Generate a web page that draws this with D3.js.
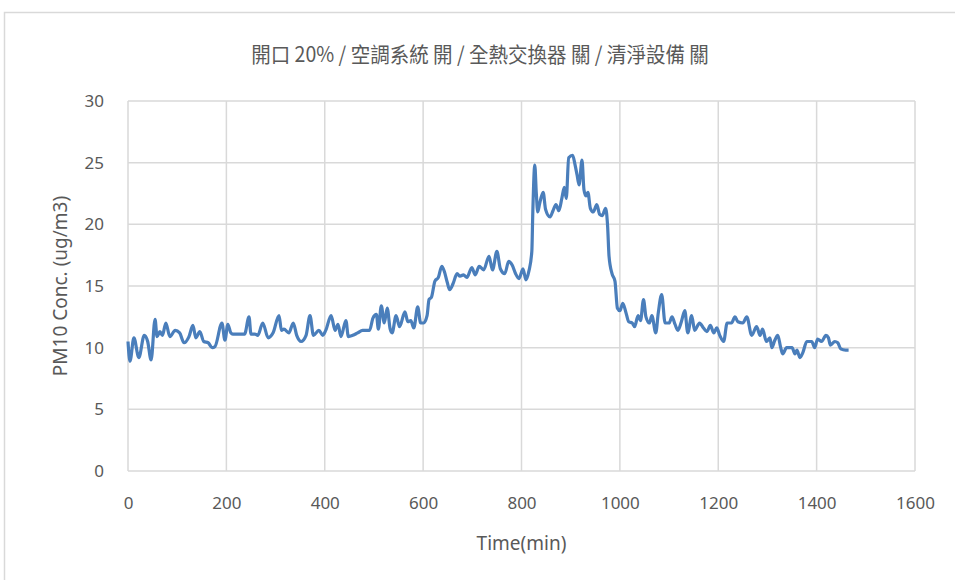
<!DOCTYPE html>
<html>
<head>
<meta charset="utf-8">
<script src="https://cdn.jsdelivr.net/npm/d3@7"></script>
<style>
  body { margin: 0; background: #fff; }
  text { font-family: "Noto Sans CJK TC", "Noto Sans", sans-serif; fill: #595959; }
</style>
</head>
<body>
<script>
// chart texts
var chartTitle = "開口 20% / 空調系統 開 / 全熱交換器 關 / 清淨設備 關";
var xTitle = "Time(min)";
var yTitle = "PM10 Conc. (ug/m3)";

// axis ticks
var xTicks = [0, 200, 400, 600, 800, 1000, 1200, 1400, 1600];
var yTicks = [0, 5, 10, 15, 20, 25, 30];

// series: time (min) and PM10 (ug/m3)
var timeMin = [0, 4, 12, 22, 33, 40, 47, 55, 59, 65, 70, 77, 85, 96, 105, 114, 124, 132, 138, 146,
  154, 163, 171, 177, 191, 197, 203, 209, 213, 237, 246, 250, 258, 264, 274, 285, 295, 307, 312, 317,
  327, 336, 343, 352, 362, 370, 377, 388, 396, 402, 413, 421, 427, 433, 443, 448, 457, 467, 477, 491,
  498, 505, 509, 515, 521, 527, 533, 537, 545, 552, 563, 569, 575, 581, 589, 595, 601, 608, 612, 617,
  624, 631, 638, 643, 649, 654, 661, 669, 675, 682, 689, 699, 706, 714, 723, 734, 741, 750, 757, 766,
  774, 781, 788, 795, 803, 809, 815, 821, 823, 827, 830, 833, 837, 844, 849, 858, 864, 870, 876, 882,
  887, 891, 896, 904, 909, 913, 917, 923, 927, 931, 935, 940, 946, 953, 959, 964, 971, 975, 978, 984,
  990, 995, 1000, 1006, 1012, 1018, 1025, 1030, 1037, 1042, 1048, 1053, 1060, 1065, 1073, 1078, 1085, 1092, 1100, 1106,
  1112, 1118, 1125, 1132, 1138, 1146, 1152, 1162, 1170, 1177, 1184, 1191, 1197, 1203, 1211, 1218, 1227, 1234, 1240, 1250,
  1258, 1268, 1278, 1285, 1290, 1298, 1305, 1309, 1315, 1321, 1327, 1331, 1339, 1350, 1356, 1360, 1366, 1372, 1380, 1390,
  1396, 1402, 1410, 1419, 1424, 1428, 1437, 1443, 1449, 1459, 1465];
var pm10 = [10.5, 8.9, 10.8, 9.2, 11.0, 10.5, 9.0, 12.3, 10.9, 11.3, 11.0, 12.0, 10.9, 11.4, 11.2, 10.4, 10.9, 11.8, 10.8, 11.3,
  10.5, 10.4, 10.0, 10.1, 12.0, 10.6, 11.9, 11.2, 11.1, 11.1, 12.5, 11.1, 11.1, 11.0, 12.0, 10.8, 11.2, 12.6, 11.4, 11.5,
  11.2, 12.0, 11.0, 10.5, 11.0, 12.6, 11.0, 11.4, 11.0, 11.4, 12.6, 11.4, 11.9, 10.9, 12.2, 10.9, 11.0, 11.2, 11.4, 11.4,
  12.4, 12.7, 11.5, 13.4, 12.0, 13.2, 11.5, 11.2, 12.6, 11.7, 12.9, 12.1, 12.2, 11.6, 13.3, 12.0, 12.0, 12.6, 13.9, 14.1,
  15.4, 15.7, 16.6, 16.2, 15.3, 14.7, 15.2, 16.0, 15.8, 15.9, 15.7, 16.5, 15.9, 16.6, 16.3, 17.4, 16.3, 17.8, 16.4, 16.0,
  17.0, 16.7, 16.0, 15.6, 16.4, 15.5, 16.2, 17.8, 21.0, 24.8, 22.6, 21.0, 21.7, 22.6, 21.2, 20.6, 21.1, 21.6, 21.1, 22.1,
  23.0, 22.1, 25.4, 25.6, 24.8, 24.0, 23.2, 25.2, 22.8, 22.3, 22.6, 21.3, 21.0, 21.6, 20.8, 20.7, 21.3, 19.9, 17.4, 16.0,
  15.4, 13.2, 13.0, 13.6, 12.9, 12.1, 12.0, 11.7, 12.6, 12.2, 13.9, 12.5, 12.0, 12.6, 11.2, 12.8, 14.3, 12.0, 12.0, 12.5,
  11.9, 11.4, 12.1, 13.0, 11.2, 12.6, 11.4, 12.0, 11.6, 11.3, 11.8, 11.2, 11.6, 11.0, 10.5, 12.0, 12.0, 12.5, 12.1, 12.0,
  12.5, 11.0, 11.7, 11.0, 11.5, 10.5, 10.8, 10.0, 10.6, 11.0, 10.0, 9.5, 10.0, 10.0, 9.5, 9.8, 9.2, 9.6, 10.5, 10.5,
  10.0, 10.7, 10.5, 11.0, 10.8, 10.2, 10.5, 10.4, 9.9, 9.8, 9.8];

var width = 955, height = 580;
var margin = {left: 128, right: 40, top: 101, bottom: 109};

var svg = d3.select("body").append("svg")
    .attr("width", width)
    .attr("height", height);

// outer chart border
svg.append("rect")
    .attr("x", 4.5).attr("y", 12.5)
    .attr("width", width).attr("height", height)
    .attr("fill", "none").attr("stroke", "#d9d9d9").attr("stroke-width", 1.5);

var x = d3.scaleLinear().domain([0, 1600]).range([margin.left, width - margin.right]);
var y = d3.scaleLinear().domain([0, 30]).range([height - margin.bottom, margin.top]);

// grid lines
svg.append("g").selectAll("line.h")
    .data(yTicks)
    .enter().append("line")
    .attr("x1", x(0)).attr("x2", x(1600))
    .attr("y1", function(d) { return y(d); })
    .attr("y2", function(d) { return y(d); })
    .attr("stroke", "#d9d9d9").attr("stroke-width", 1.5);

svg.append("g").selectAll("line.v")
    .data(xTicks)
    .enter().append("line")
    .attr("y1", y(0)).attr("y2", y(30))
    .attr("x1", function(d) { return x(d); })
    .attr("x2", function(d) { return x(d); })
    .attr("stroke", "#d9d9d9").attr("stroke-width", 1.5);

// axes (labels only, lines are the grid)
var xAxis = svg.append("g")
    .attr("transform", "translate(0," + y(0) + ")")
    .call(d3.axisBottom(x).tickValues(xTicks).tickFormat(d3.format("d")).tickSize(0).tickPadding(33));
var yAxis = svg.append("g")
    .attr("transform", "translate(" + x(0) + ",0)")
    .call(d3.axisLeft(y).tickValues(yTicks).tickSize(0).tickPadding(24));
[xAxis, yAxis].forEach(function(a) {
  a.select(".domain").remove();
  a.selectAll("text")
      .style("font-family", "'Noto Sans', sans-serif")
      .style("font-size", "17px")
      .attr("fill", "#595959");
});
xAxis.selectAll("text").attr("dy", "0.3em");

// data line
var line = d3.line()
    .x(function(d, i) { return x(timeMin[i]); })
    .y(function(d) { return y(d); })
    .curve(d3.curveMonotoneX);

svg.append("path")
    .datum(pm10)
    .attr("d", line)
    .attr("fill", "none")
    .attr("stroke", "#4a7ebb")
    .attr("stroke-width", 3.2)
    .attr("stroke-linejoin", "round");

// titles
svg.append("text")
    .attr("transform", "translate(480,62) scale(0.93,1)")
    .attr("text-anchor", "middle")
    .style("font-size", "21px")
    .text(chartTitle);

svg.append("text")
    .attr("x", (x(0) + x(1600)) / 2).attr("y", 550)
    .attr("text-anchor", "middle")
    .style("font-family", "'Noto Sans', sans-serif")
    .style("font-size", "19px")
    .text(xTitle);

svg.append("text")
    .attr("transform", "translate(67," + (y(15)) + ") rotate(-90)")
    .attr("text-anchor", "middle")
    .style("font-family", "'Noto Sans', sans-serif")
    .style("font-size", "19px")
    .text(yTitle);
</script>
</body>
</html>
